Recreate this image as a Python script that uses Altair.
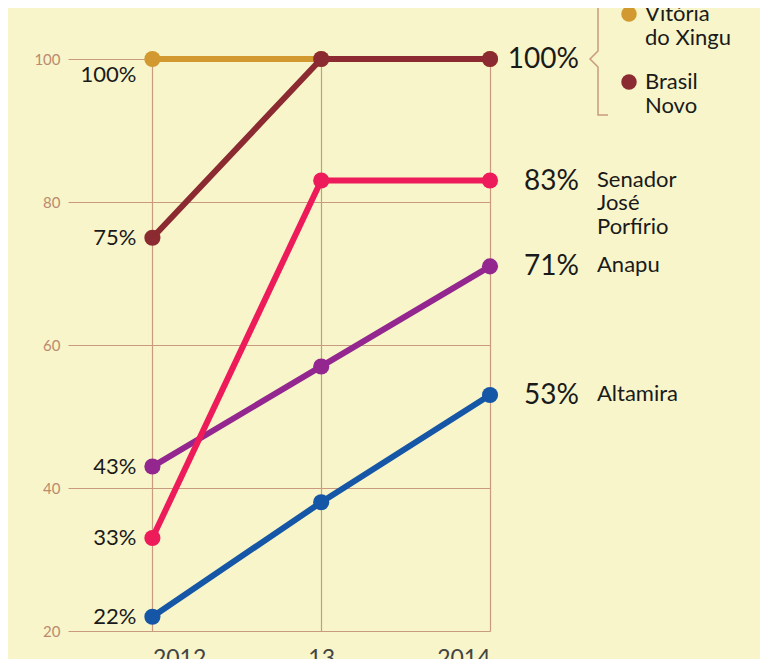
import altair as alt
import pandas as pd

# ---- data ----
years = [2012, 2013, 2014]
year_labels = ["2012", "13", "2014"]
cities = ["Vitória do Xingu", "Brasil Novo", "Senador José Porfírio", "Anapu", "Altamira"]
colors = ["#d1992f", "#8b2a30", "#ee1b5b", "#93278f", "#1556a6"]
vitoria = [100, 100, 100]
brasil = [75, 100, 100]
senador = [33, 83, 83]
anapu = [43, 57, 71]
altamira = [22, 38, 53]
series = [vitoria, brasil, senador, anapu, altamira]

# draw order (later on top)
draw_order = ["Vitória do Xingu", "Brasil Novo", "Anapu", "Senador José Porfírio", "Altamira"]

left_cities = ["Brasil Novo", "Anapu", "Senador José Porfírio", "Altamira"]
right_cities = ["Brasil Novo", "Senador José Porfírio", "Anapu", "Altamira"]
right_names = {"Senador José Porfírio": "Senador\nJosé\nPorfírio", "Anapu": "Anapu", "Altamira": "Altamira"}
legend_names = ["Vitória\ndo Xingu", "Brasil\nNovo"]

rows = []
for c, vals in zip(cities, series):
    for y, v in zip(years, vals):
        rows.append({"city": c, "year": y, "value": v})
df = pd.DataFrame(rows)

W, H = 422, 572
XDOM = [2011.5, 2014]
YDOM = [20, 100]
pxx = W / (XDOM[1] - XDOM[0])
pxy = H / (YDOM[1] - YDOM[0])

FONT = "Lato"
BG = "#f7f5c9"
GRID = "#c99a80"
TXT = "#1a1a1a"

xs = alt.Scale(domain=XDOM, nice=False, zero=False)
ys = alt.Scale(domain=YDOM, nice=False, zero=False)
cs = alt.Scale(domain=cities, range=colors)

label_expr = "datum.value == 2012 ? '2012' : datum.value == 2013 ? '13' : '2014'"
align_expr = "datum.value == 2012 ? 'left' : datum.value == 2014 ? 'right' : 'center'"

X = alt.X("year:Q", scale=xs, axis=alt.Axis(values=years, labelExpr=label_expr, title=None,
          labelAlign=alt.ExprRef(align_expr),
          grid=True, gridColor=GRID, gridWidth=1.2, domain=False, ticks=False,
          labelFont=FONT, labelFontSize=23, labelColor="#444444", labelPadding=16))
Y = alt.Y("value:Q", scale=ys, axis=alt.Axis(values=[20, 40, 60, 80, 100], title=None,
          grid=True, gridColor=GRID, gridWidth=1.2, domain=False, ticks=False,
          labelFont=FONT, labelFontSize=15, labelColor="#bb8a70", labelPadding=8))

base = alt.Chart(df)
layers = []
# axis layer
layers.append(base.mark_point(opacity=0).encode(x=X, y=Y))
for c in draw_order:
    b = base.transform_filter(alt.datum.city == c)
    layers.append(b.mark_line(strokeWidth=6).encode(
        x=alt.X("year:Q", scale=xs), y=alt.Y("value:Q", scale=ys),
        color=alt.Color("city:N", scale=cs, legend=None)))
    layers.append(b.mark_circle(size=260, opacity=1).encode(
        x=alt.X("year:Q", scale=xs), y=alt.Y("value:Q", scale=ys),
        color=alt.Color("city:N", scale=cs, legend=None)))

# left labels
left_df = df[(df.year == 2012) & (df.city.isin(left_cities))].copy()
left_df["lab"] = left_df.value.astype(int).astype(str) + "%"
layers.append(alt.Chart(left_df).mark_text(align="right", baseline="middle", dx=-16,
              font=FONT, fontSize=22, color=TXT).encode(
    x=alt.X("year:Q", scale=xs), y=alt.Y("value:Q", scale=ys), text="lab:N"))
top_df = df[(df.year == 2012) & (df.city == "Vitória do Xingu")].copy()
top_df["lab"] = top_df.value.astype(int).astype(str) + "%"
layers.append(alt.Chart(top_df).mark_text(align="right", baseline="middle", dx=-16, dy=16,
              font=FONT, fontSize=22, color=TXT).encode(
    x=alt.X("year:Q", scale=xs), y=alt.Y("value:Q", scale=ys), text="lab:N"))

# right labels
right_df = df[(df.year == 2014) & (df.city.isin(right_cities))].copy()
right_df["lab"] = right_df.value.astype(int).astype(str) + "%"
layers.append(alt.Chart(right_df).mark_text(align="right", baseline="middle", dx=89, dy=1,
              font=FONT, fontSize=28, color=TXT).encode(
    x=alt.X("year:Q", scale=xs), y=alt.Y("value:Q", scale=ys), text="lab:N"))
name_df = right_df[right_df.city.isin(list(right_names))].copy()
name_df["name"] = name_df.city.map(right_names)
layers.append(alt.Chart(name_df).mark_text(align="left", baseline="top", dx=107, dy=-11,
              font=FONT, fontSize=22, color=TXT, lineBreak="\n", lineHeight=23.5).encode(
    x=alt.X("year:Q", scale=xs), y=alt.Y("value:Q", scale=ys), text="name:N"))

# legend for the two 100% cities
leg_df = pd.DataFrame({"city": cities[:2], "name": legend_names,
                       "year": [2014, 2014], "value": [100 + 45 / pxy, 100 - 23 / pxy]})
layers.append(alt.Chart(leg_df).mark_circle(size=240, opacity=1, xOffset=139).encode(
    x=alt.X("year:Q", scale=xs), y=alt.Y("value:Q", scale=ys),
    color=alt.Color("city:N", scale=cs, legend=None)))
layers.append(alt.Chart(leg_df).mark_text(align="left", baseline="top", dx=155, dy=-10,
              font=FONT, fontSize=22, color=TXT, lineBreak="\n", lineHeight=24).encode(
    x=alt.X("year:Q", scale=xs), y=alt.Y("value:Q", scale=ys), text="name:N"))

# bracket (pixel offsets from the 2014 / 100% point)
br_dx = [118, 108, 108, 100, 108, 108, 118]
br_dy = [-56, -56, -8, 0, 8, 56, 56]
br_df = pd.DataFrame({"i": list(range(len(br_dx))),
                      "year": [2014 + d / pxx for d in br_dx],
                      "value": [100 - d / pxy for d in br_dy]})
layers.append(alt.Chart(br_df).mark_line(color=GRID, strokeWidth=1.5).encode(
    x=alt.X("year:Q", scale=xs), y=alt.Y("value:Q", scale=ys), order="i:Q"))

chart = alt.layer(*layers).properties(
    width=W, height=H, background=BG,
    autosize=alt.AutoSizeParams(type="none"),
    padding={"left": 60, "top": 51, "right": 270, "bottom": 28},
).configure_view(stroke=None)

chart.save("out.html", embed_options={"renderer": "svg", "actions": False})
